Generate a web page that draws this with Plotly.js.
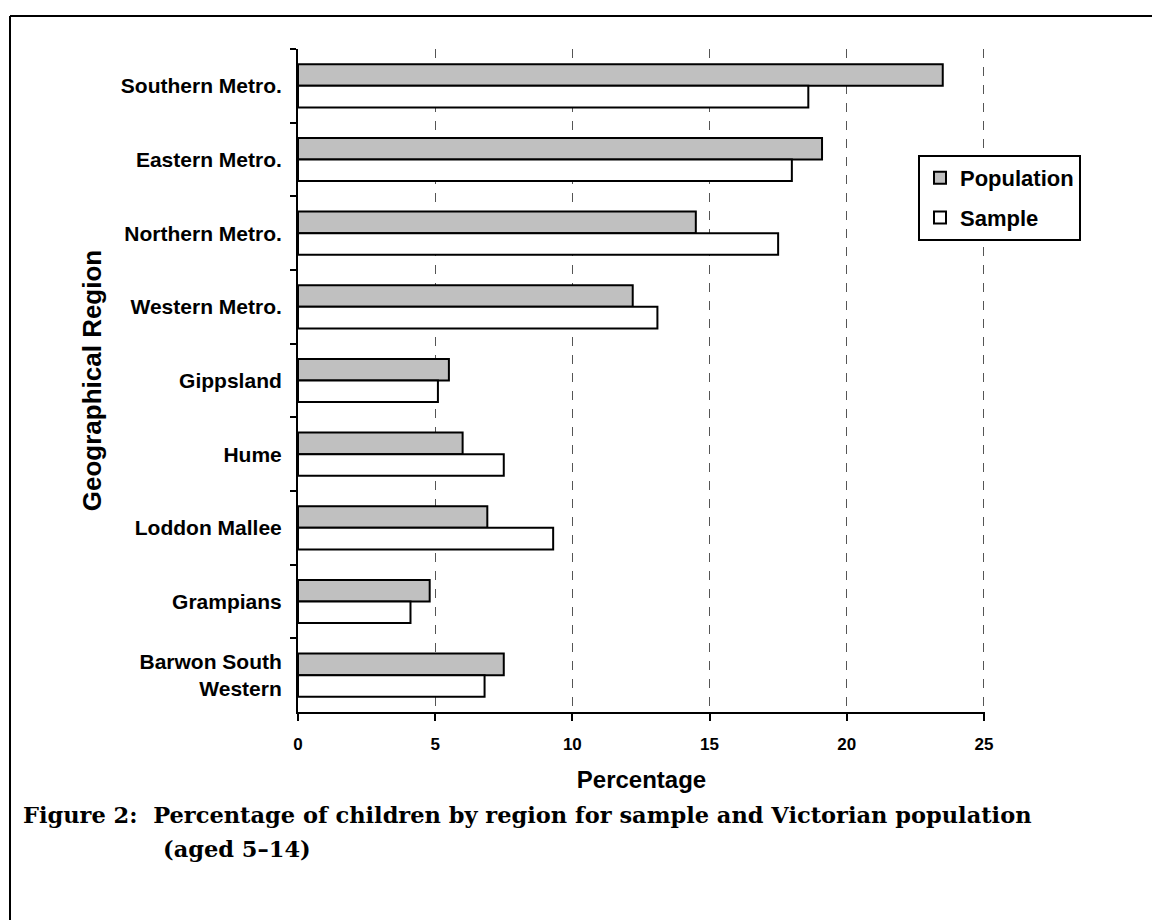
<!DOCTYPE html>
<html>
<head>
<meta charset="utf-8">
<script src="https://cdn.plot.ly/plotly-3.0.1.min.js"></script>
<style>
  html, body { margin: 0; padding: 0; background: #ffffff; }
  #chart { width: 1152px; height: 920px; }
</style>
</head>
<body>
<div id="chart"></div>
<script>
// Categories (top to bottom)
const regions = [
  "Southern Metro.",
  "Eastern Metro.",
  "Northern Metro.",
  "Western Metro.",
  "Gippsland",
  "Hume",
  "Loddon Mallee",
  "Grampians",
  "Barwon South<br>Western"
];
// Series values (percentage)
const population = [23.5, 19.1, 14.5, 12.2, 5.5, 6.0, 6.9, 4.8, 7.5];
const sample     = [18.6, 18.0, 17.5, 13.1, 5.1, 7.5, 9.3, 4.1, 6.8];
// Tick values for x axis
const xTicks = [0, 5, 10, 15, 20, 25];

const captionLine1 = "Figure 2:  Percentage of children by region for sample and Victorian population";
const captionLine2 = "(aged 5–14)";

const sans = "Liberation Sans, Arial, sans-serif";
const serif = "DejaVu Serif, Liberation Serif, serif";

const traces = [
  {
    type: "bar", orientation: "h", name: "Population",
    y: regions, x: population, legendgroup: "a",
    marker: { color: "#c0c0c0", line: { color: "#000000", width: 2 } },
    hoverinfo: "x+y"
  },
  {
    type: "bar", orientation: "h", name: "Sample",
    y: regions, x: sample, legendgroup: "b",
    marker: { color: "#ffffff", line: { color: "#000000", width: 2 } },
    hoverinfo: "x+y"
  }
];

// plot area: x 298..985, y 49..712
const L = 298, R = 985, T = 49, B = 712;
const px = v => (v - L) / (R - L);
const py = v => (B - v) / (B - T);

const layout = {
  width: 1152, height: 920,
  paper_bgcolor: "#ffffff", plot_bgcolor: "#ffffff",
  margin: { l: L, r: 1152 - R, t: T, b: 920 - B, pad: 0 },
  barmode: "group",
  bargap: 0.415,
  bargroupgap: 0,
  showlegend: true,
  legend: {
    x: px(918), y: py(155), xanchor: "left", yanchor: "top",
    bgcolor: "#ffffff", bordercolor: "#000000", borderwidth: 2,
    font: { family: sans, size: 22, color: "#000000", weight: "bold" },
    traceorder: "grouped",
    tracegroupgap: 8
  },
  xaxis: {
    range: [0, 25.04], tickvals: xTicks, ticktext: xTicks.map(String),
    showline: true, linecolor: "#000000", linewidth: 2,
    ticks: "outside", ticklen: 7, tickwidth: 2, tickcolor: "#000000",
    showgrid: true, gridcolor: "#555555", gridwidth: 1, griddash: "dash",
    zeroline: false,
    tickfont: { family: sans, size: 17, color: "#000000", weight: "bold" },
    ticklabelstandoff: 9,
    title: { text: "Percentage", font: { family: sans, size: 24, color: "#000000", weight: "bold" }, standoff: 18 },
    fixedrange: true
  },
  yaxis: {
    type: "category", categoryorder: "array", categoryarray: regions,
    autorange: "reversed",
    showline: true, linecolor: "#000000", linewidth: 2,
    ticks: "outside", tickson: "boundaries", ticklen: 6, tickwidth: 2, tickcolor: "#000000",
    showgrid: false, zeroline: false,
    tickfont: { family: sans, size: 21, color: "#000000", weight: "bold" },
    ticklabelstandoff: 10,
    title: { text: "Geographical Region", font: { family: sans, size: 26, color: "#000000", weight: "bold" }, standoff: 12 },
    fixedrange: true
  },
  shapes: [
    { type: "line", xref: "paper", yref: "paper", x0: px(10), x1: px(1152), y0: py(16), y1: py(16), line: { color: "#000000", width: 2 } },
    { type: "line", xref: "paper", yref: "paper", x0: px(10), x1: px(10), y0: py(16), y1: py(920), line: { color: "#000000", width: 2 } }
  ],
  annotations: [
    { xref: "paper", yref: "paper", x: px(21), y: py(815), xanchor: "left", yanchor: "middle",
      text: captionLine1, showarrow: false, align: "left",
      font: { family: serif, size: 22.5, color: "#000000", weight: "bold" } },
    { xref: "paper", yref: "paper", x: px(161), y: py(849), xanchor: "left", yanchor: "middle",
      text: captionLine2, showarrow: false, align: "left",
      font: { family: serif, size: 22.5, color: "#000000", weight: "bold" } }
  ]
};

Plotly.newPlot("chart", traces, layout, { displayModeBar: false, staticPlot: false });
</script>
</body>
</html>
